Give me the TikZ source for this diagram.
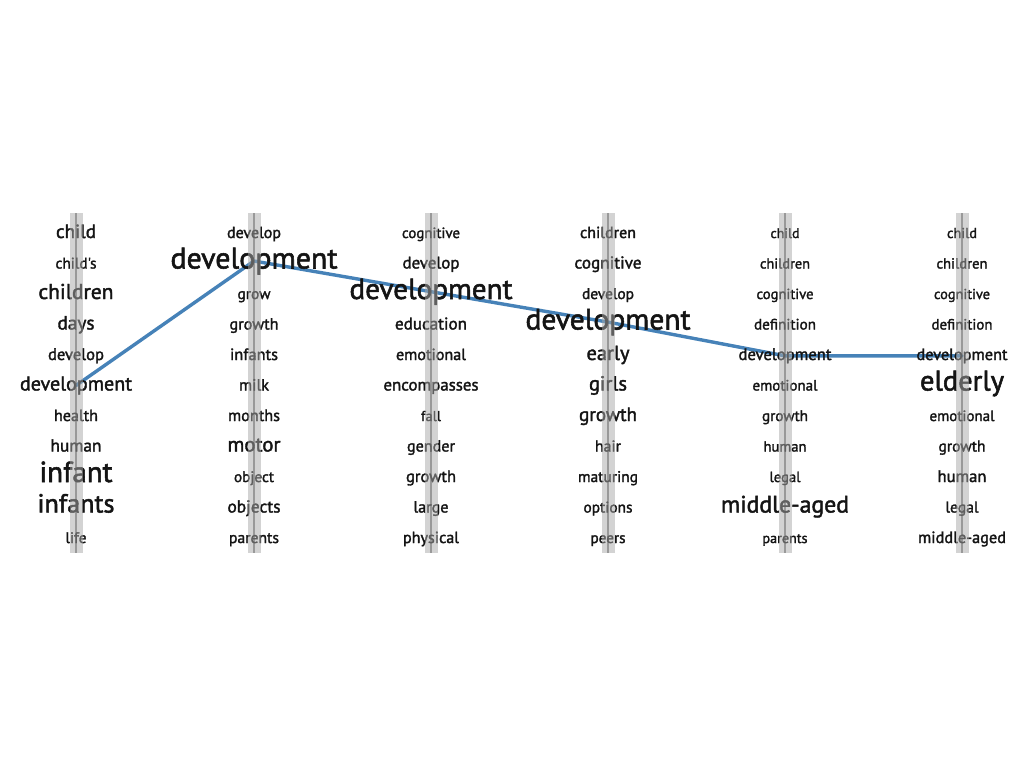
\documentclass[tikz,border=0pt]{standalone}
\usepackage{fontspec}
\setmainfont{PT Sans}
\newfontfamily\wfont{PT Sans}[FakeBold=1.8]
\usepackage{graphicx}
\pgfdeclarelayer{back}
\pgfdeclarelayer{bg}
\pgfdeclarelayer{fg}
\pgfsetlayers{back,bg,main,fg}
\definecolor{wordcol}{HTML}{141414}
\definecolor{barcol}{HTML}{A8A8A8}
\definecolor{barmid}{HTML}{606060}
\definecolor{linkcol}{HTML}{4682B8}
\begin{document}
\begin{tikzpicture}[x=1pt,y=-1pt,
  word/.style={inner sep=0pt,anchor=base,text=wordcol,font=\wfont},
  barbox/.style={fill=barcol,draw=none,opacity=0.5},
  barline/.style={draw=barmid,line width=2pt,opacity=0.5},
  link/.style={draw=linkcol,line width=3.4pt,line join=round,line cap=round}]
\begin{pgfonlayer}{back}
\fill[white] (0,0) rectangle (1024,768);
\end{pgfonlayer}
\useasboundingbox (0,0) rectangle (1024,768);
% column 1
\foreach \r/\w/\t in {0/40/child,1/41/child's,2/75/children,3/37/days,4/56/develop,5/112/development,6/44/health,7/51/human,8/73/infant,9/77/infants,10/21/life}
  \node[word] (a\r) at (76,{238+30.5*\r}) {\resizebox{\w pt}{!}{\t}};
% column 2
\foreach \r/\w/\t in {0/54/develop,1/167/development,2/33/grow,3/49/growth,4/48/infants,5/30/milk,6/52/months,7/53/motor,8/40/object,9/53/objects,10/50/parents}
  \node[word] (b\r) at (254,{238+30.5*\r}) {\resizebox{\w pt}{!}{\t}};
% column 3
\foreach \r/\w/\t in {0/58/cognitive,1/57/develop,2/163/development,3/72/education,4/70/emotional,5/95/encompasses,6/20/fall,7/48/gender,8/50/growth,9/35/large,10/56/physical}
  \node[word] (c\r) at (431,{238+30.5*\r}) {\resizebox{\w pt}{!}{\t}};
% column 4
\foreach \r/\w/\t in {0/56/children,1/67/cognitive,2/52/develop,3/165/development,4/43/early,5/38/girls,6/58/growth,7/26/hair,8/60/maturing,9/49/options,10/35/peers}
  \node[word] (d\r) at (608,{238+30.5*\r}) {\resizebox{\w pt}{!}{\t}};
% column 5
\foreach \r/\w/\t in {0/29/child,1/50/children,2/57/cognitive,3/62/definition,4/93/development,5/65/emotional,6/46/growth,7/43/human,8/31/legal,9/128/middle-aged,10/45/parents}
  \node[word] (e\r) at (785,{238+30.5*\r}) {\resizebox{\w pt}{!}{\t}};
% column 6
\foreach \r/\w/\t in {0/30/child,1/51/children,2/56/cognitive,3/61/definition,4/91/development,5/84/elderly,6/65/emotional,7/47/growth,8/49/human,9/33/legal,10/88/middle-aged}
  \node[word] (f\r) at (962,{238+30.5*\r}) {\resizebox{\w pt}{!}{\t}};
% connector
\begin{pgfonlayer}{bg}
  \draw[link] (a5.center) -- (b1.center) -- (c2.center) -- (d3.center) -- (e4.center) -- (f4.center);
\end{pgfonlayer}
% bars
\begin{pgfonlayer}{fg}
  \foreach \x in {76,254,431,608,785,962} {
    \fill[barbox] (\x-6.5,213) rectangle (\x+6.5,553);
    \draw[barline] (\x,213) -- (\x,553);
  }
\end{pgfonlayer}
\end{tikzpicture}
\end{document}
